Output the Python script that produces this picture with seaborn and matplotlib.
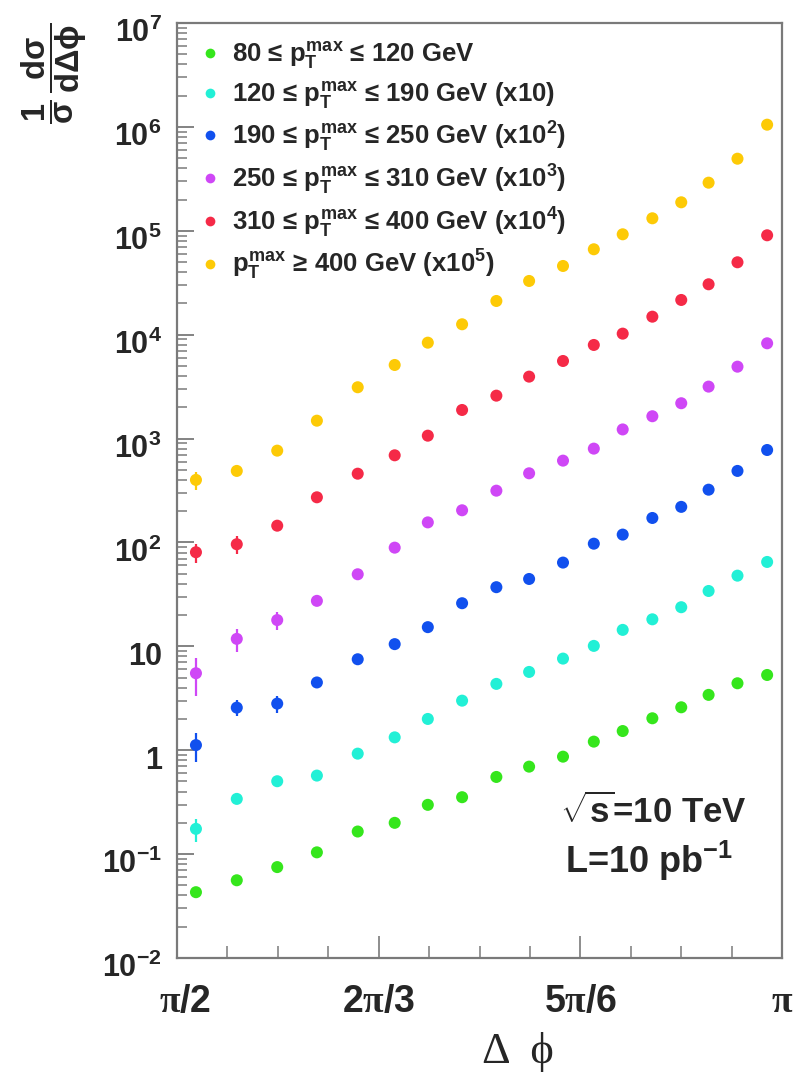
import numpy as np
import pandas as pd
import matplotlib
matplotlib.use("Agg")
import matplotlib.pyplot as plt
import seaborn as sns
from matplotlib.lines import Line2D
from matplotlib import transforms
from matplotlib.ticker import FixedLocator, NullFormatter

# ---------------- data ----------------
dphi = [1.620, 1.726, 1.831, 1.934, 2.040, 2.136, 2.222, 2.311, 2.400,
        2.485, 2.573, 2.653, 2.728, 2.805, 2.880, 2.951, 3.026, 3.103]

series_names = ["80-120", "120-190", "190-250", "250-310", "310-400", "400+"]

green = [0.043, 0.056, 0.075, 0.104, 0.165, 0.200, 0.298, 0.353, 0.553,
         0.695, 0.867, 1.21, 1.53, 2.03, 2.59, 3.41, 4.41, 5.30]
cyan = [0.175, 0.340, 0.503, 0.570, 0.927, 1.33, 2.00, 3.00, 4.35,
        5.67, 7.62, 10.1, 14.4, 18.2, 23.8, 34.1, 47.9, 64.9]
blue = [1.12, 2.57, 2.81, 4.49, 7.51, 10.5, 15.3, 26.0, 37.1,
        44.5, 64.0, 97.3, 119, 172, 220, 322, 488, 776]
magenta = [5.51, 11.8, 17.9, 27.4, 49.4, 89.1, 156, 204, 315,
           463, 613, 800, 1224, 1640, 2188, 3162, 4920, 8260]
red = [80.5, 96.1, 145, 272, 459, 690, 1066, 1884, 2588,
       3945, 5580, 7960, 10230, 14900, 21580, 30550, 49750, 90500]
yellow = [400, 488, 765, 1486, 3118, 5108, 8375, 12590, 21100,
          32880, 45840, 66370, 92500, 131900, 188000, 290400, 494000, 1050000]

green_err = [0.004, 0.003, 0, 0, 0, 0, 0, 0, 0, 0, 0, 0, 0, 0, 0, 0, 0, 0]
cyan_err = [0.045, 0.02, 0, 0, 0, 0, 0, 0, 0, 0, 0, 0, 0, 0, 0, 0, 0, 0]
blue_err = [0.35, 0.45, 0.55, 0.25, 0, 0, 0, 0, 0, 0, 0, 0, 0, 0, 0, 0, 0, 0]
magenta_err = [2.2, 3.0, 3.5, 0, 0, 0, 0, 0, 0, 0, 0, 0, 0, 0, 0, 0, 0, 0]
red_err = [17, 19, 12, 0, 0, 0, 0, 0, 0, 0, 0, 0, 0, 0, 0, 0, 0, 0]
yellow_err = [80, 40, 0, 0, 0, 0, 0, 0, 0, 0, 0, 0, 0, 0, 0, 0, 0, 0]

legend_labels = [
    r"80 ≤ $p_{T}^{max}$ ≤ 120 GeV",
    r"120 ≤ $p_{T}^{max}$ ≤ 190 GeV (x10)",
    r"190 ≤ $p_{T}^{max}$ ≤ 250 GeV (x10$^{2}$)",
    r"250 ≤ $p_{T}^{max}$ ≤ 310 GeV (x10$^{3}$)",
    r"310 ≤ $p_{T}^{max}$ ≤ 400 GeV (x10$^{4}$)",
    r"$p_{T}^{max}$ ≥ 400 GeV (x10$^{5}$)",
]
colors = ["#35e61c", "#22f0d6", "#1150ee", "#cf47f6", "#f52a47", "#fdca06"]

ytick_vals = [1e-2, 1e-1, 1, 10, 1e2, 1e3, 1e4, 1e5, 1e6, 1e7]
ytick_labels = [r"$10^{-2}$", r"$10^{-1}$", "1", "10", r"$10^{2}$", r"$10^{3}$",
                r"$10^{4}$", r"$10^{5}$", r"$10^{6}$", r"$10^{7}$"]
xtick_vals = [np.pi / 2, 2 * np.pi / 3, 5 * np.pi / 6, np.pi]
xtick_labels = [r"$\mathcal{\pi}$/2", r"2$\mathcal{\pi}$/3", r"5$\mathcal{\pi}$/6", r"$\mathcal{\pi}$"]

# ---------------- style ----------------
sns.set_theme(style="white")
plt.rcParams.update({
    "font.family": ["Liberation Sans", "DejaVu Sans"],
    "font.weight": "bold",
    "mathtext.fontset": "custom",
    "mathtext.rm": "Liberation Sans:bold",
    "mathtext.it": "Liberation Sans:bold",
    "mathtext.bf": "Liberation Sans:bold",
    "mathtext.sf": "Liberation Sans:bold",
    "mathtext.cal": "Liberation Serif",
    "mathtext.fallback": "cm",
})

frame_col = "#7a7a7a"

values = [green, cyan, blue, magenta, red, yellow]
errs = [green_err, cyan_err, blue_err, magenta_err, red_err, yellow_err]
frames = []
for name, v, e in zip(series_names, values, errs):
    frames.append(pd.DataFrame({"dphi": dphi, "value": v, "err": e, "series": name}))
df = pd.concat(frames, ignore_index=True)

fig = plt.figure(figsize=(7.96, 10.78), dpi=100)
ax = fig.add_axes([177 / 796, 1 - 958 / 1078, (782 - 177) / 796, (958 - 23) / 1078])

# error bars
for name, col in zip(series_names, colors):
    sub = df[(df["series"] == name) & (df["err"] > 0)]
    ax.errorbar(sub["dphi"], sub["value"], yerr=sub["err"], fmt="none",
                ecolor=col, elinewidth=1.6, capsize=0, zorder=2)

sns.scatterplot(data=df, x="dphi", y="value", hue="series",
                palette=dict(zip(series_names, colors)), s=75, linewidth=0,
                edgecolor="none", legend=False, ax=ax, zorder=3)

ax.set_yscale("log")
ax.set_ylim(1e-2, 1e7)
ax.set_xlim(np.pi / 2, np.pi)
ax.set_xlabel("")
ax.set_ylabel("")

# y ticks
ax.yaxis.set_major_locator(FixedLocator(ytick_vals))
ax.set_yticklabels(ytick_labels)
minor = [m * 10.0 ** k for k in range(-2, 7) for m in range(2, 10)]
ax.yaxis.set_minor_locator(FixedLocator(minor))
ax.yaxis.set_minor_formatter(NullFormatter())

# x ticks
ax.xaxis.set_major_locator(FixedLocator(xtick_vals))
ax.set_xticklabels(xtick_labels)
ax.xaxis.set_minor_locator(FixedLocator([np.pi / 2 + k * np.pi / 24 for k in range(1, 12)]))
ax.xaxis.set_minor_formatter(NullFormatter())

ax.tick_params(axis="y", which="major", direction="in", length=12, width=1.3,
               color=frame_col, labelsize=22, pad=11, left=True, right=False)
ax.tick_params(axis="y", which="minor", direction="in", length=7, width=1.1,
               color=frame_col, left=True, right=False)
ax.tick_params(axis="x", which="major", direction="in", length=16, width=1.2,
               color=frame_col, labelsize=27, pad=19, bottom=True, top=False)
ax.tick_params(axis="x", which="minor", direction="in", length=8.5, width=1.1,
               color=frame_col, bottom=True, top=False)

offset = transforms.ScaledTranslation(0, -5 / 72, fig.dpi_scale_trans)
for lab in ax.get_yticklabels():
    lab.set_transform(lab.get_transform() + offset)
    lab.set_fontweight("bold")
xoff = transforms.ScaledTranslation(6 / 72, 0, fig.dpi_scale_trans)
for i, lab in enumerate(ax.get_xticklabels()):
    lab.set_fontweight("bold")
    if i == 0:
        lab.set_transform(lab.get_transform() + xoff)

for sp in ax.spines.values():
    sp.set_visible(True)
    sp.set_color(frame_col)
    sp.set_linewidth(1.6)
ax.set_facecolor("white")
ax.grid(False)

# legend
handles = [Line2D([], [], linestyle="none", marker="o", markersize=7.0,
                  markerfacecolor=c, markeredgecolor="none") for c in colors]
ax.legend(handles, legend_labels, loc="upper left",
          bbox_to_anchor=(200 / 796, 1 - 40 / 1078), bbox_transform=fig.transFigure,
          frameon=False, fontsize=18.5, handlelength=0.8, handletextpad=0.45,
          labelspacing=0.34, borderpad=0, borderaxespad=0)

# axis titles
fig.text(54 / 796, 1 - 73 / 1078, r"$\dfrac{1}{\sigma}\,\dfrac{d\sigma}{d\Delta\phi}$",
         rotation=90, ha="center", va="center", fontsize=23.5)
fig.text(518 / 796, 1 - 1052 / 1078, "Δ  ϕ", family=["Liberation Serif", "DejaVu Serif"],
         fontweight="normal", ha="center", va="center", fontsize=32)

# annotations
fig.text(653 / 796, 1 - 812 / 1078, r"$\sqrt{s}$=10 TeV", ha="center", va="center",
         fontsize=25, fontweight="bold")
fig.text(649 / 796, 1 - 861 / 1078, r"L=10 pb$^{-1}$", ha="center", va="center",
         fontsize=26, fontweight="bold")

fig.savefig("out.png", dpi=100, facecolor="white")
